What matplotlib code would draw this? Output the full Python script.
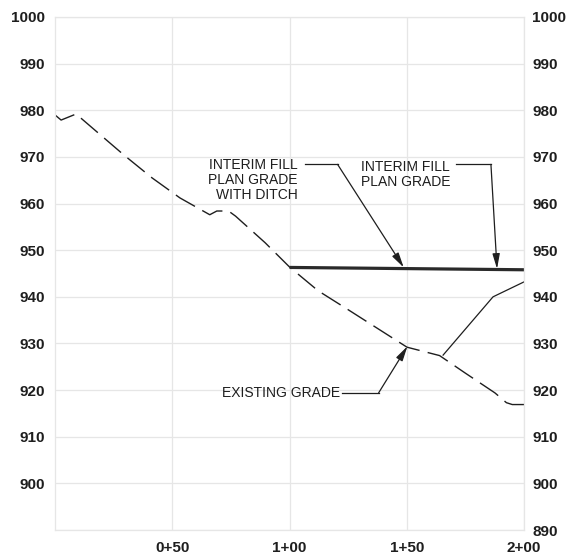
import matplotlib
matplotlib.use("Agg")
import matplotlib.pyplot as plt

# existing ground profile (station in ft, elevation)
exist_sta = [0, 2.6, 9, 29.4, 41.4, 53.3, 66, 69, 74, 77, 89.6, 100, 112.2,
             124.5, 137.3, 150.1, 164, 174.8, 187.6, 192.5, 195, 200]
exist_elev = [979.0, 977.9, 979.2, 970.4, 965.5, 961.2, 957.6, 958.4, 958.4,
              957.3, 951.6, 946.4, 941.3, 937.4, 933.3, 929.2, 927.4, 923.7,
              919.4, 917.3, 916.9, 916.9]

# interim fill plan grade with ditch
plan_sta = [100, 200]
plan_elev = [946.3, 945.8]

# fill slope up to the right edge
fill_sta = [165.5, 186.8, 200]
fill_elev = [927.5, 940.0, 943.2]

station_ticks = [50, 100, 150, 200]
station_labels = ["0+50", "1+00", "1+50", "2+00"]
left_ticks = list(range(900, 1001, 10))
right_ticks = list(range(890, 1001, 10))

ink = "#1e1e1e"
grid_c = "#e6e6e6"

fig = plt.figure(figsize=(5.7, 5.57), dpi=100)
ax = fig.add_axes([55 / 570, 1 - 530 / 557, (524 - 55) / 570, (530 - 17) / 557])
ax.set_xlim(0, 200)
ax.set_ylim(890, 1000)

ax.set_xticks(station_ticks)
ax.set_xticklabels(station_labels)
ax.set_yticks(right_ticks)
ax.set_yticklabels(["" if v == 890 else str(v) for v in right_ticks])
ax.grid(True, color=grid_c, linewidth=0.9)
ax.tick_params(length=0, labelsize=11, colors=ink)
ax.tick_params(axis="y", pad=7)
ax.tick_params(axis="x", pad=8)
for lab in ax.get_xticklabels() + ax.get_yticklabels():
    lab.set_fontweight("bold")
    lab.set_fontfamily("Liberation Sans")
for s in ax.spines.values():
    s.set_color(grid_c)
    s.set_linewidth(0.9)

ax2 = ax.twinx()
ax2.set_ylim(890, 1000)
ax2.set_yticks(right_ticks)
ax2.tick_params(length=0, labelsize=11, colors=ink, pad=6)
for lab in ax2.get_yticklabels():
    lab.set_fontweight("bold")
    lab.set_fontfamily("Liberation Sans")
for s in ax2.spines.values():
    s.set_visible(False)

ax.plot(exist_sta, exist_elev, color=ink, lw=1.0, dashes=(16, 6))
ax.plot(plan_sta, plan_elev, color="#2a2a2a", lw=2.3, solid_capstyle="butt")
ax.plot(fill_sta, fill_elev, color=ink, lw=0.9)

tkw = dict(fontsize=10, family="Liberation Sans", color=ink, linespacing=1.1)
akw = dict(arrowstyle="-|>,head_length=0.9,head_width=0.22", color=ink,
           lw=0.9, shrinkA=0, shrinkB=0)

# annotation 1
ax.text(103.4, 965.0, "INTERIM FILL\nPLAN GRADE\nWITH DITCH", ha="right",
        va="center", **tkw)
ax.plot([106.8, 120.5], [968.4, 968.4], color=ink, lw=0.9)
ax.annotate("", xy=(148.7, 946.3), xytext=(120.5, 968.4), arrowprops=akw)

# annotation 2
ax.text(130.3, 966.3, "INTERIM FILL\nPLAN GRADE", ha="left", va="center", **tkw)
ax.plot([170.9, 185.9], [968.4, 968.4], color=ink, lw=0.9)
ax.annotate("", xy=(188.5, 946.0), xytext=(185.9, 968.4), arrowprops=akw)

# annotation 3
ax.text(71.4, 919.4, "EXISTING GRADE", ha="left", va="center", **tkw)
ax.plot([122.6, 138.0], [919.4, 919.4], color=ink, lw=0.9)
ax.annotate("", xy=(150.3, 929.4), xytext=(138.0, 919.4), arrowprops=akw)

fig.savefig("out.png", dpi=100)
